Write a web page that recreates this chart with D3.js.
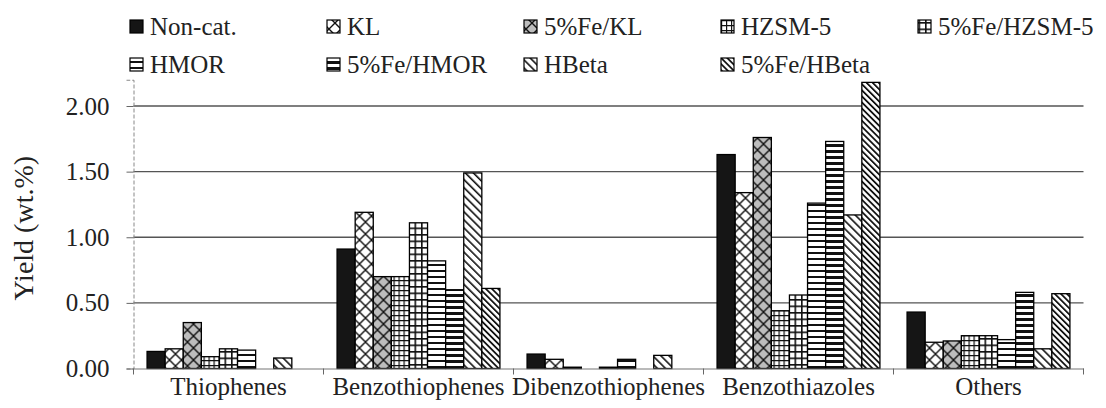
<!DOCTYPE html>
<html>
<head>
<meta charset="utf-8">
<script src="https://cdn.jsdelivr.net/npm/d3@7"></script>
<style>
  body { margin: 0; background: #fff; }
  text { font-family: "Liberation Serif", "Times New Roman", serif; fill: #222; }
</style>
</head>
<body>
<svg id="chart" width="1106" height="408"></svg>
<script>
// Product groups on the x axis
const categories = ["Thiophenes", "Benzothiophenes", "Dibenzothiophenes", "Benzothiazoles", "Others"];

// Catalysts (legend order)
const seriesNames = ["Non-cat.", "KL", "5%Fe/KL", "HZSM-5", "5%Fe/HZSM-5",
                     "HMOR", "5%Fe/HMOR", "HBeta", "5%Fe/HBeta"];

// Yield (wt.%) per catalyst, one value per product group
const nonCat     = [0.13, 0.91, 0.11, 1.63, 0.43];
const kl         = [0.15, 1.19, 0.07, 1.34, 0.20];
const feKl       = [0.35, 0.70, 0.01, 1.76, 0.21];
const hzsm5      = [0.09, 0.70, 0.00, 0.44, 0.25];
const feHzsm5    = [0.15, 1.11, 0.01, 0.56, 0.25];
const hmor       = [0.14, 0.82, 0.07, 1.26, 0.22];
const feHmor     = [0.00, 0.60, 0.00, 1.73, 0.58];
const hbeta      = [0.08, 1.49, 0.10, 1.17, 0.15];
const feHbeta    = [0.00, 0.61, 0.00, 2.18, 0.57];

const yTickValues = [0, 0.5, 1.0, 1.5, 2.0];
const yTitle = "Yield (wt.%)";

const seriesValues = [nonCat, kl, feKl, hzsm5, feHzsm5, hmor, feHmor, hbeta, feHbeta];

const svg = d3.select("#chart");
const left = 133.5, right = 1083.5, base = 368.5;

const x0 = d3.scaleBand().domain(categories).range([left, right]).padding(0);
const x1 = d3.scaleBand().domain(seriesNames).range([0, x0.bandwidth()])
  .paddingInner(0).paddingOuter(0.75);
const y = d3.scaleLinear().domain([0, 2.2]).range([base, base - 2.2 * 131.25]);

// ---- fill patterns ----
const defs = svg.append("defs");
function pat(id, w, h, transform) {
  const p = defs.append("pattern").attr("id", id)
    .attr("patternUnits", "userSpaceOnUse").attr("width", w).attr("height", h);
  if (transform) p.attr("patternTransform", transform);
  p.append("rect").attr("width", w).attr("height", h).attr("fill", "#fff");
  return p;
}
// lattice of diagonals
let p = pat("p-kl", 12, 12);
p.append("path").attr("d", "M0,0L12,12M12,0L0,12M-1,11L1,13M11,-1L13,1")
  .attr("stroke", "#111").attr("stroke-width", 1.4).attr("fill", "none");
p = pat("p-fekl", 12, 12);
p.select("rect").attr("fill", "#bdbdbd");
p.append("path").attr("d", "M0,0L12,12M12,0L0,12")
  .attr("stroke", "#111").attr("stroke-width", 1.4).attr("fill", "none");
// square grids
p = pat("p-hzsm", 5, 5);
p.append("path").attr("d", "M0,0.6H5M0.6,0V5").attr("stroke", "#111").attr("stroke-width", 1.2);
p = pat("p-fehzsm", 6.5, 6.5);
p.append("path").attr("d", "M0,0.8H6.5M0.8,0V6.5").attr("stroke", "#111").attr("stroke-width", 1.6);
// horizontal stripes
p = pat("p-hmor", 6, 6);
p.append("rect").attr("y", 0).attr("width", 6).attr("height", 2).attr("fill", "#111");
p = pat("p-fehmor", 6, 6);
p.append("rect").attr("y", 0).attr("width", 6).attr("height", 3).attr("fill", "#111");
// descending diagonals
p = pat("p-hbeta", 5.7, 10, "rotate(-45)");
p.append("rect").attr("width", 1.6).attr("height", 10).attr("fill", "#111");
p = pat("p-fehbeta", 4.3, 10, "rotate(-45)");
p.append("rect").attr("width", 1.8).attr("height", 10).attr("fill", "#111");

const fills = ["#151515", "url(#p-kl)", "url(#p-fekl)", "url(#p-hzsm)", "url(#p-fehzsm)",
               "url(#p-hmor)", "url(#p-fehmor)", "url(#p-hbeta)", "url(#p-fehbeta)"];
const color = d3.scaleOrdinal().domain(seriesNames).range(fills);

// ---- gridlines ----
svg.append("g").selectAll("line").data(yTickValues.filter(v => v > 0)).join("line")
  .attr("x1", left).attr("x2", right)
  .attr("y1", d => y(d)).attr("y2", d => y(d))
  .attr("stroke", "#555").attr("stroke-width", 1.4);

// ---- bars ----
const rows = categories.map((c, ci) => ({
  cat: c,
  items: seriesNames.map((s, si) => ({ s, v: seriesValues[si][ci] }))
}));
svg.append("g").selectAll("g").data(rows).join("g")
  .attr("transform", d => `translate(${x0(d.cat)},0)`)
  .selectAll("rect").data(d => d.items.filter(it => it.v > 0)).join("rect")
  .attr("x", d => x1(d.s))
  .attr("width", x1.bandwidth())
  .attr("y", d => y(d.v))
  .attr("height", d => base - y(d.v))
  .attr("fill", d => color(d.s))
  .attr("stroke", "#000").attr("stroke-width", 1.3);

// ---- y axis ----
const yAxis = svg.append("g").attr("transform", `translate(${left},0)`)
  .call(d3.axisLeft(y).tickValues(yTickValues).tickFormat(d3.format(".2f")).tickSize(7).tickPadding(17));
yAxis.select(".domain").attr("stroke", "#888").attr("stroke-width", 1).attr("stroke-dasharray", "4,2");
yAxis.selectAll(".tick line").attr("stroke", "#666");
yAxis.selectAll("text").attr("font-size", 25).attr("fill", "#222")
  .attr("font-family", "Liberation Serif, Times New Roman, serif");

// ---- x axis ----
const xAxis = svg.append("g").attr("transform", `translate(0,${base})`)
  .call(d3.axisBottom(x0).tickSize(0).tickPadding(9));
xAxis.select(".domain").attr("stroke", "#777").attr("stroke-width", 1.2);
xAxis.selectAll("text").attr("font-size", 25).attr("fill", "#222")
  .attr("font-family", "Liberation Serif, Times New Roman, serif");
// separators between product groups
svg.append("g").selectAll("line")
  .data(categories.map(c => x0(c)).concat([x0(categories[categories.length - 1]) + x0.bandwidth()]))
  .join("line")
  .attr("x1", d => d).attr("x2", d => d)
  .attr("y1", base).attr("y2", base + 6)
  .attr("stroke", "#666").attr("stroke-width", 1);

// ---- y title ----
svg.append("text")
  .attr("transform", `translate(33,${(y(0) + y(2)) / 2 - 9}) rotate(-90)`)
  .attr("text-anchor", "middle")
  .attr("font-size", 28)
  .text(yTitle);

// ---- legend ----
const legendCols = [150, 347, 544, 741, 938];
const legendRows = [35, 73];
const lg = svg.append("g").selectAll("g").data(seriesNames).join("g")
  .attr("transform", (d, i) => `translate(${legendCols[i % 5]},${legendRows[Math.floor(i / 5)]})`);
lg.append("rect")
  .attr("x", -20).attr("y", -15).attr("width", 13).attr("height", 13)
  .attr("fill", d => color(d)).attr("stroke", "#000").attr("stroke-width", 1.2);
lg.append("text").attr("x", 0).attr("y", 0).attr("font-size", 25).text(d => d);
</script>
</body>
</html>
